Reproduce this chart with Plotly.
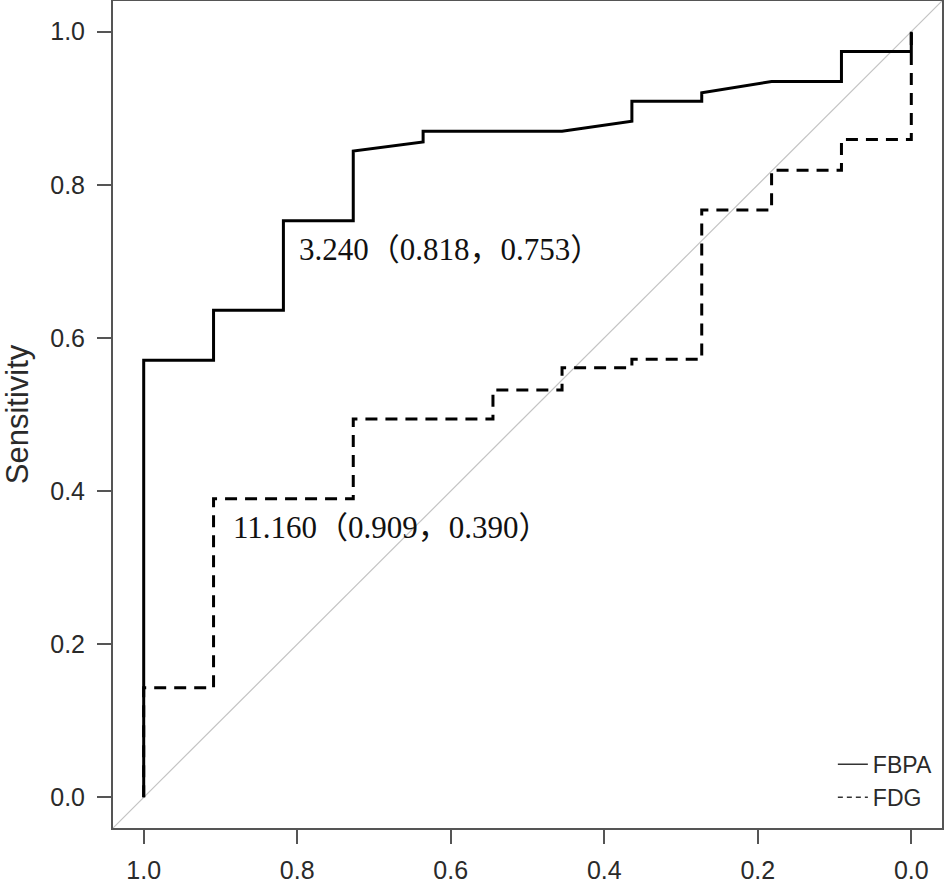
import plotly.graph_objects as go

# ROC 曲线数据（特异度, 灵敏度）
fbpa_spec = [1.0, 1.0, 0.909, 0.909, 0.818, 0.818, 0.727, 0.727, 0.636, 0.636,
             0.455, 0.364, 0.364, 0.273, 0.273, 0.182, 0.091, 0.091, 0.0, 0.0]
fbpa_sens = [0.0, 0.571, 0.571, 0.636, 0.636, 0.753, 0.753, 0.844, 0.856, 0.870,
             0.870, 0.883, 0.909, 0.909, 0.920, 0.935, 0.935, 0.974, 0.974, 1.0]

fdg_spec = [1.0, 1.0, 0.909, 0.909, 0.727, 0.727, 0.545, 0.545, 0.455, 0.455,
            0.364, 0.364, 0.273, 0.273, 0.182, 0.182, 0.091, 0.091, 0.0, 0.0]
fdg_sens = [0.0, 0.143, 0.143, 0.390, 0.390, 0.494, 0.494, 0.532, 0.532, 0.561,
            0.561, 0.572, 0.572, 0.767, 0.767, 0.819, 0.819, 0.859, 0.859, 1.0]

# 最佳截断值标注
cut_labels = ["3.240（0.818，0.753）", "11.160（0.909，0.390）"]
cut_x = [0.800, 0.886]
cut_y = [0.716, 0.352]

ticks = [0.0, 0.2, 0.4, 0.6, 0.8, 1.0]
tick_text = ["0.0", "0.2", "0.4", "0.6", "0.8", "1.0"]

fig = go.Figure()

# 参考对角线
fig.add_trace(go.Scatter(x=[1.04, -0.04], y=[-0.04, 1.04], mode="lines",
                         line=dict(color="#c4c4c4", width=1.2),
                         showlegend=False, hoverinfo="skip"))

fig.add_trace(go.Scatter(x=fbpa_spec, y=fbpa_sens, mode="lines",
                         line=dict(color="black", width=3),
                         showlegend=False))
fig.add_trace(go.Scatter(x=fdg_spec, y=fdg_sens, mode="lines",
                         line=dict(color="black", width=3, dash="12px,8px"),
                         showlegend=False))

# 图例（细线）
fig.add_trace(go.Scatter(x=[None], y=[None], mode="lines", name="FBPA",
                         line=dict(color="#333", width=1.5)))
fig.add_trace(go.Scatter(x=[None], y=[None], mode="lines", name="FDG",
                         line=dict(color="#333", width=1.5, dash="5px,4px")))

for txt, xx, yy in zip(cut_labels, cut_x, cut_y):
    fig.add_annotation(x=xx, y=yy, text=txt, showarrow=False,
                       xanchor="left", yanchor="middle",
                       font=dict(family="Liberation Serif, Noto Sans CJK SC",
                                 size=31, color="#111"))

axis_common = dict(showgrid=False, zeroline=False, showline=True, mirror=True,
                   linecolor="#555", linewidth=2, ticks="outside", ticklen=14,
                   tickwidth=2, tickcolor="#555", automargin=False,
                   tickfont=dict(family="Liberation Sans, Arial", size=25, color="#2a2a2a"),
                   tickvals=ticks, ticktext=tick_text)

fig.update_xaxes(range=[1.04, -0.04], ticklabelstandoff=5, **axis_common)
fig.update_yaxes(range=[-0.04, 1.04], ticklabelstandoff=7,
                 title=dict(text="Sensitivity", standoff=22,
                            font=dict(family="Liberation Sans, Arial", size=31, color="#2a2a2a")),
                 **axis_common)

fig.update_layout(
    width=944, height=884,
    margin=dict(l=113, r=2, t=1, b=56),
    plot_bgcolor="white", paper_bgcolor="white",
    legend=dict(x=0.995, y=0.011, xanchor="right", yanchor="bottom",
                bgcolor="rgba(0,0,0,0)",
                font=dict(family="Liberation Sans, Arial", size=23, color="#2a2a2a"),
                tracegroupgap=0),
)

# 去掉页面默认边距，使图形贴齐窗口左上角
fig.write_html("out.html", config={"displayModeBar": False},
               post_script="document.body.style.margin='0';")
